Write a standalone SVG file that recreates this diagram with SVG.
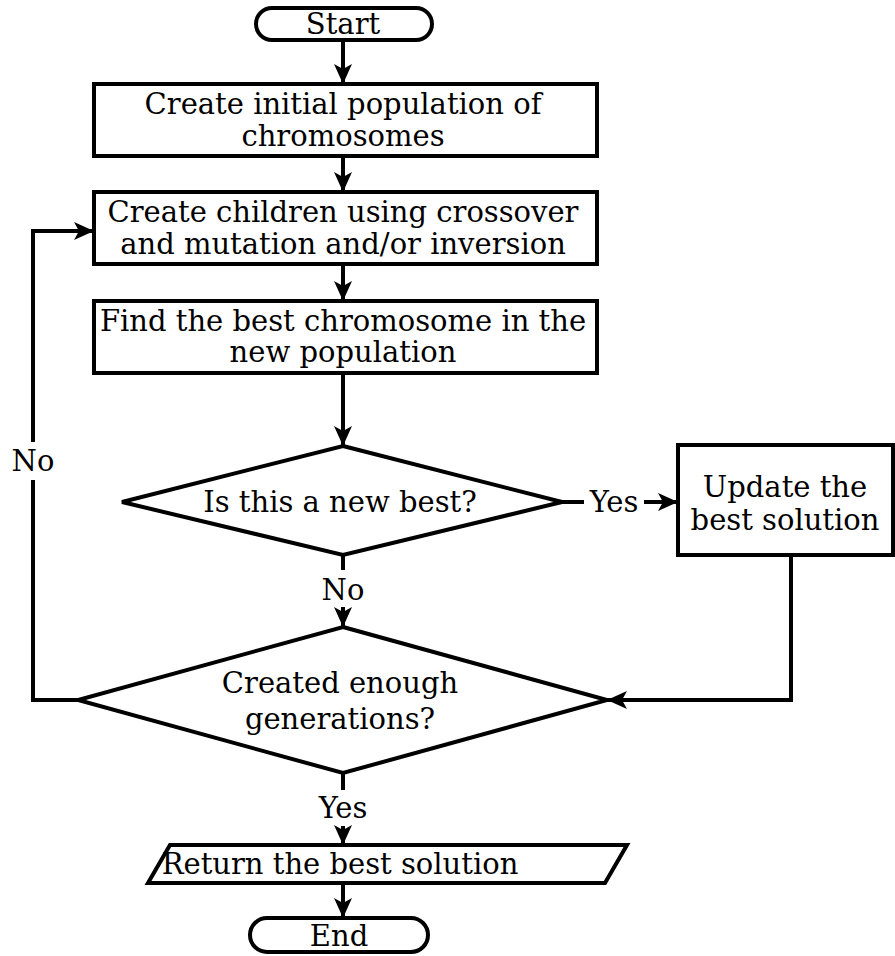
<svg xmlns="http://www.w3.org/2000/svg" width="895" height="956" viewBox="0 0 895 956">
<style>
.s{fill:#fff;stroke:#000;stroke-width:4}
.c{fill:none;stroke:#000;stroke-width:4}
text{font-family:"DejaVu Serif","Liberation Serif",serif;font-size:29px;fill:#000;text-anchor:middle}
</style>
<defs>
<marker id="a" viewBox="0 0 20 18" refX="20" refY="9" markerWidth="20" markerHeight="18" markerUnits="userSpaceOnUse" orient="auto">
<path d="M0,0 L20,9 L0,18 L5,9 z" fill="#000"/>
</marker>
</defs>
<rect width="895" height="956" fill="#fff"/>
<g id="start"><rect class="s" x="256" y="8" width="176" height="32" rx="16"/><text x="343" y="34">Start</text></g>
<g id="init"><rect class="s" x="94" y="84" width="503" height="72"/><text x="343" y="114">Create initial population of</text><text x="343" y="146">chromosomes</text></g>
<g id="children"><rect class="s" x="94" y="192" width="503" height="72"/><text x="343" y="222">Create children using crossover</text><text x="343" y="254">and mutation and/or inversion</text></g>
<g id="find"><rect class="s" x="94" y="301" width="503" height="72"/><text x="343" y="331">Find the best chromosome in the</text><text x="343" y="362">new population</text></g>
<g id="newbest"><polygon class="s" points="343,446 562,502 343,555 122,502"/><text x="340" y="512">Is this a new best?</text></g>
<g id="update"><rect class="s" x="678" y="445" width="215" height="110"/><text x="785" y="497">Update the</text><text x="785" y="530">best solution</text></g>
<g id="enough"><polygon class="s" points="343,627 607,700 343,773 78,700"/><text x="340" y="693">Created enough</text><text x="340" y="729">generations?</text></g>
<g id="return"><polygon class="s" points="170,845 627,845 605,883 148,883"/><text x="340" y="874">Return the best solution</text></g>
<g id="end"><rect class="s" x="250" y="918" width="178" height="34" rx="17"/><text x="339" y="946">End</text></g>
<g id="connectors">
<line class="c" x1="343" y1="40" x2="343" y2="84" marker-end="url(#a)"/>
<line class="c" x1="343" y1="156" x2="343" y2="192" marker-end="url(#a)"/>
<line class="c" x1="343" y1="264" x2="343" y2="301" marker-end="url(#a)"/>
<line class="c" x1="343" y1="373" x2="343" y2="446" marker-end="url(#a)"/>
<line class="c" x1="562" y1="502" x2="584" y2="502"/>
<line class="c" x1="644" y1="502" x2="678" y2="502" marker-end="url(#a)"/>
<text x="614" y="512">Yes</text>
<line class="c" x1="343" y1="555" x2="343" y2="570"/>
<text x="343" y="600">No</text>
<line class="c" x1="343" y1="607" x2="343" y2="627" marker-end="url(#a)"/>
<polyline class="c" points="791,555 791,700 607,700" marker-end="url(#a)"/>
<polyline class="c" points="78,700 33,700 33,480"/>
<text x="33" y="471">No</text>
<polyline class="c" points="33,442 33,231 94,231" marker-end="url(#a)"/>
<line class="c" x1="343" y1="773" x2="343" y2="790"/>
<text x="343" y="818">Yes</text>
<line class="c" x1="343" y1="826" x2="343" y2="845" marker-end="url(#a)"/>
<line class="c" x1="343" y1="883" x2="343" y2="918" marker-end="url(#a)"/>
</g>
</svg>
